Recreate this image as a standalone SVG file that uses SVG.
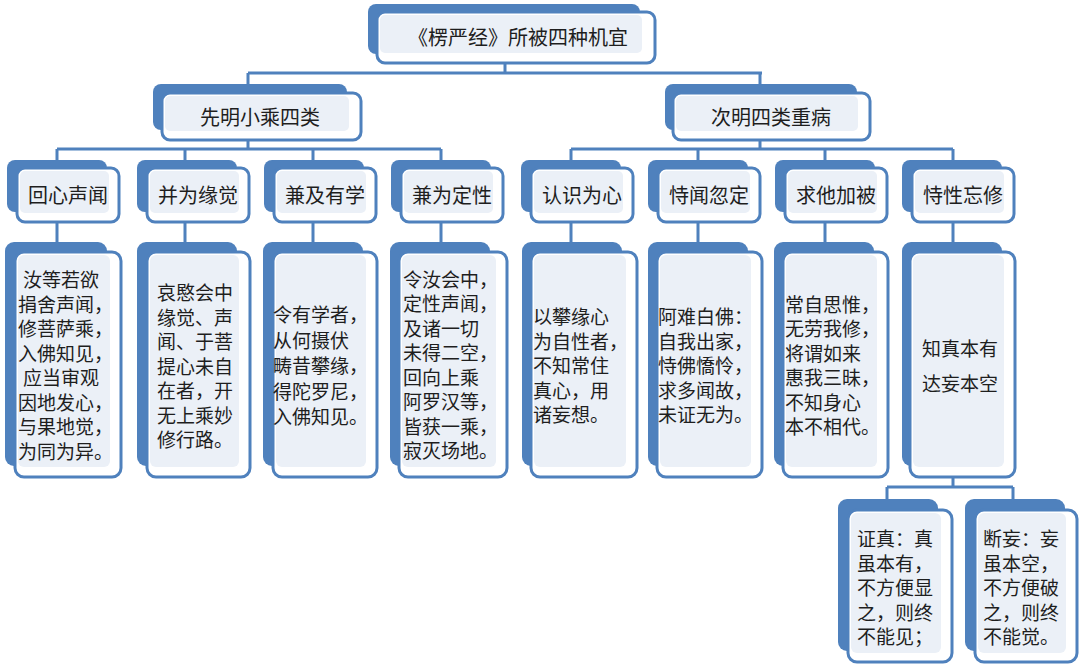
<svg xmlns="http://www.w3.org/2000/svg" width="1080" height="664" viewBox="0 0 1080 664">
<style>
.bk{fill:#4f81bd;}
.fr{fill:#ffffff;stroke:#4f81bd;stroke-width:3;}
.in{fill:#ebf0f7;}
.ln{stroke:#4f81bd;stroke-width:3;fill:none;}
text{font-family:"Noto Sans CJK SC","Noto Sans",sans-serif;fill:#1e1e1e;dominant-baseline:central;}
.t20{font-size:20px;}
.t19{font-size:19px;}
.c{text-anchor:middle;}
</style>
<rect width="1080" height="664" fill="#ffffff"/>
<g id="connectors">
<path class="ln" d="M505 63V73M248 73H762M248 73V84M760 73V84"/>
<path class="ln" d="M248 140V149M57 149H441M57 149V160M185 149V160M313 149V160M441 149V160"/>
<path class="ln" d="M760 140V149M571 149H953M571 149V160M698 149V160M825 149V160M953 149V160"/>
<path class="ln" d="M57 222V242M185 222V242M313 222V242M441 222V242M571 222V242M698 222V242M825 222V242M953 222V242"/>
<path class="ln" d="M953 477V487M887 487H1013M887 487V499M1013 487V499"/>
</g>
<g id="root">
<rect class="bk" x="368" y="4" width="272" height="50" rx="8"/>
<rect class="fr" x="377" y="12" width="278" height="51" rx="8"/>
<rect class="in" x="380" y="15" width="262" height="38" rx="5"/>
<text class="t20 c" x="518" y="36">《楞严经》所被四种机宜</text>
</g>
<g id="n-xianming">
<rect class="bk" x="153" y="84" width="194" height="46" rx="8"/>
<rect class="fr" x="162" y="93" width="199" height="47" rx="8"/>
<rect class="in" x="165" y="96" width="184" height="35" rx="5"/>
<text class="t20 c" x="260" y="116">先明小乘四类</text>
</g>
<g id="n-ciming">
<rect class="bk" x="665" y="84" width="192" height="46" rx="8"/>
<rect class="fr" x="673" y="93" width="197" height="47" rx="8"/>
<rect class="in" x="676" y="96" width="182" height="35" rx="5"/>
<text class="t20 c" x="771" y="116">次明四类重病</text>
</g>
<g id="l3-1"><rect class="bk" x="7" y="160" width="100" height="52" rx="8"/><rect class="fr" x="17" y="168" width="102" height="54" rx="8"/><rect class="in" x="20" y="171" width="89" height="42" rx="5"/><text class="t20 c" x="68" y="194">回心声闻</text></g>
<g id="l3-2"><rect class="bk" x="137" y="160" width="100" height="52" rx="8"/><rect class="fr" x="147" y="168" width="102" height="54" rx="8"/><rect class="in" x="150" y="171" width="89" height="42" rx="5"/><text class="t20 c" x="198" y="194">并为缘觉</text></g>
<g id="l3-3"><rect class="bk" x="264" y="160" width="100" height="52" rx="8"/><rect class="fr" x="274" y="168" width="102" height="54" rx="8"/><rect class="in" x="277" y="171" width="89" height="42" rx="5"/><text class="t20 c" x="325" y="194">兼及有学</text></g>
<g id="l3-4"><rect class="bk" x="391" y="160" width="100" height="52" rx="8"/><rect class="fr" x="401" y="168" width="102" height="54" rx="8"/><rect class="in" x="404" y="171" width="89" height="42" rx="5"/><text class="t20 c" x="452" y="194">兼为定性</text></g>
<g id="l3-5"><rect class="bk" x="521" y="160" width="100" height="52" rx="8"/><rect class="fr" x="531" y="168" width="102" height="54" rx="8"/><rect class="in" x="534" y="171" width="89" height="42" rx="5"/><text class="t20 c" x="582" y="194">认识为心</text></g>
<g id="l3-6"><rect class="bk" x="648" y="160" width="100" height="52" rx="8"/><rect class="fr" x="658" y="168" width="102" height="54" rx="8"/><rect class="in" x="661" y="171" width="89" height="42" rx="5"/><text class="t20 c" x="709" y="194">恃闻忽定</text></g>
<g id="l3-7"><rect class="bk" x="775" y="160" width="100" height="52" rx="8"/><rect class="fr" x="785" y="168" width="102" height="54" rx="8"/><rect class="in" x="788" y="171" width="89" height="42" rx="5"/><text class="t20 c" x="836" y="194">求他加被</text></g>
<g id="l3-8"><rect class="bk" x="902" y="160" width="100" height="52" rx="8"/><rect class="fr" x="912" y="168" width="102" height="54" rx="8"/><rect class="in" x="915" y="171" width="89" height="42" rx="5"/><text class="t20 c" x="963" y="194">恃性忘修</text></g>
<g id="d-1"><rect class="bk" x="5" y="242" width="102" height="224" rx="9"/><rect class="fr" x="15" y="252" width="106" height="225" rx="9"/><rect class="in" x="18" y="255" width="92" height="212" rx="6"/>
<text class="t19" x="22"><tspan x="23" y="278">汝等若欲</tspan><tspan x="18" y="302.5">捐舍声闻，</tspan><tspan x="18" y="327">修菩萨乘，</tspan><tspan x="18" y="351.5">入佛知见，</tspan><tspan x="23" y="376">应当审观</tspan><tspan x="18" y="400.5">因地发心，</tspan><tspan x="18" y="425">与果地觉，</tspan><tspan x="18" y="449.5">为同为异。</tspan></text></g>
<g id="d-2"><rect class="bk" x="137" y="242" width="100" height="224" rx="9"/><rect class="fr" x="147" y="252" width="103" height="225" rx="9"/><rect class="in" x="150" y="255" width="89" height="212" rx="6"/>
<text class="t19" x="157"><tspan x="157" y="291">哀愍会中</tspan><tspan x="157" y="315.5">缘觉、声</tspan><tspan x="157" y="340">闻、于菩</tspan><tspan x="157" y="364.5">提心未自</tspan><tspan x="157" y="389">在者，开</tspan><tspan x="157" y="413.5">无上乘妙</tspan><tspan x="157" y="438">修行路。</tspan></text></g>
<g id="d-3"><rect class="bk" x="263" y="242" width="100" height="224" rx="9"/><rect class="fr" x="273" y="252" width="104" height="225" rx="9"/><rect class="in" x="276" y="255" width="90" height="212" rx="6"/>
<text class="t19" x="273"><tspan x="273" y="313">令有学者，</tspan><tspan x="273" y="338.5">从何摄伏</tspan><tspan x="273" y="364">畴昔攀缘，</tspan><tspan x="273" y="389.5">得陀罗尼，</tspan><tspan x="273" y="415">入佛知见。</tspan></text></g>
<g id="d-4"><rect class="bk" x="390" y="242" width="100" height="224" rx="9"/><rect class="fr" x="399" y="252" width="108" height="225" rx="9"/><rect class="in" x="402" y="255" width="94" height="212" rx="6"/>
<text class="t19" x="403"><tspan x="403" y="277.5">令汝会中，</tspan><tspan x="403" y="302">定性声闻，</tspan><tspan x="403" y="326.5">及诸一切</tspan><tspan x="403" y="351">未得二空，</tspan><tspan x="403" y="375.5">回向上乘</tspan><tspan x="403" y="400">阿罗汉等，</tspan><tspan x="403" y="424.5">皆获一乘，</tspan><tspan x="403" y="449">寂灭场地。</tspan></text></g>
<g id="d-5"><rect class="bk" x="522" y="242" width="100" height="224" rx="9"/><rect class="fr" x="531" y="252" width="106" height="225" rx="9"/><rect class="in" x="534" y="255" width="92" height="212" rx="6"/>
<text class="t19" x="533"><tspan x="533" y="315">以攀缘心</tspan><tspan x="533" y="339.5">为自性者，</tspan><tspan x="533" y="364">不知常住</tspan><tspan x="533" y="388.5">真心，用</tspan><tspan x="533" y="413">诸妄想。</tspan></text></g>
<g id="d-6"><rect class="bk" x="648" y="242" width="100" height="224" rx="9"/><rect class="fr" x="657" y="252" width="105" height="225" rx="9"/><rect class="in" x="660" y="255" width="91" height="212" rx="6"/>
<text class="t19" x="658"><tspan x="658" y="315">阿难白佛：</tspan><tspan x="658" y="339.5">自我出家，</tspan><tspan x="658" y="364">恃佛憍怜，</tspan><tspan x="658" y="388.5">求多闻故，</tspan><tspan x="658" y="413">未证无为。</tspan></text></g>
<g id="d-7"><rect class="bk" x="774" y="242" width="100" height="224" rx="9"/><rect class="fr" x="783" y="252" width="105" height="225" rx="9"/><rect class="in" x="786" y="255" width="91" height="212" rx="6"/>
<text class="t19" x="785"><tspan x="785" y="302.5">常自思惟，</tspan><tspan x="785" y="327">无劳我修，</tspan><tspan x="785" y="351.5">将谓如来</tspan><tspan x="785" y="376">惠我三昧，</tspan><tspan x="785" y="400.5">不知身心</tspan><tspan x="785" y="425">本不相代。</tspan></text></g>
<g id="d-8"><rect class="bk" x="902" y="242" width="100" height="224" rx="9"/><rect class="fr" x="910" y="252" width="105" height="225" rx="9"/><rect class="in" x="913" y="255" width="91" height="212" rx="6"/>
<text class="t19 c" x="960"><tspan x="960" y="347">知真本有</tspan><tspan x="960" y="382">达妄本空</tspan></text></g>
<g id="e-1"><rect class="bk" x="838" y="499" width="100" height="152" rx="9"/><rect class="fr" x="848" y="510" width="104" height="152" rx="9"/><rect class="in" x="851" y="513" width="90" height="140" rx="6"/>
<text class="t19" x="857"><tspan x="857" y="537">证真：真</tspan><tspan x="857" y="561.5">虽本有，</tspan><tspan x="857" y="586">不方便显</tspan><tspan x="857" y="610.5">之，则终</tspan><tspan x="857" y="635">不能见；</tspan></text></g>
<g id="e-2"><rect class="bk" x="965" y="499" width="100" height="152" rx="9"/><rect class="fr" x="975" y="510" width="102" height="152" rx="9"/><rect class="in" x="978" y="513" width="88" height="140" rx="6"/>
<text class="t19" x="983"><tspan x="983" y="537">断妄：妄</tspan><tspan x="983" y="561.5">虽本空，</tspan><tspan x="983" y="586">不方便破</tspan><tspan x="983" y="610.5">之，则终</tspan><tspan x="983" y="635">不能觉。</tspan></text></g>
</svg>
